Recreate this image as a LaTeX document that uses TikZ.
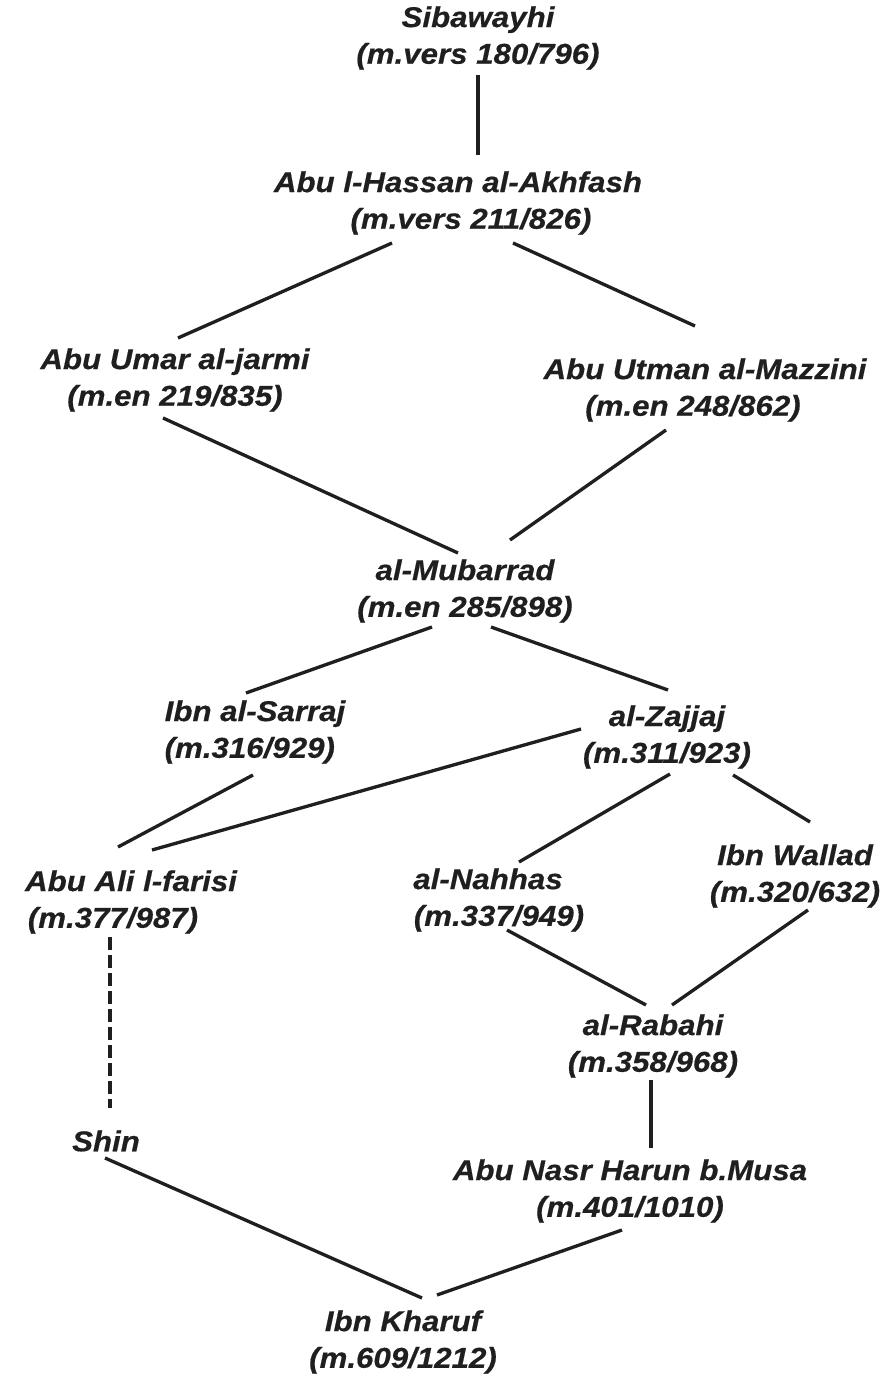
\documentclass[tikz,border=0pt]{standalone}
\usepackage{fontspec}
\setmainfont{Liberation Sans}
\newfontfamily\pfont{Liberation Sans}[FakeStretch=1.09,FakeBold=0.5]
\begin{document}
\begin{tikzpicture}[x=0.75pt,y=-0.75pt,
  person/.style={inner sep=0pt,align=center,text=black!88,
    font=\pfont\fontsize{21.5}{27.5}\selectfont\bfseries\itshape},
  link/.style={line width=2.5pt,black!88},
  dlink/.style={link,dash pattern=on 9.5pt off 4pt}]
\useasboundingbox[fill=white] (0,0) rectangle (886,1376);
\node[person] (sib) at (478,38) {Sibawayhi\\(m.vers 180/796)};
\node[person] (akh) at (458,203) {Abu l-Hassan al-Akhfash\\\hspace*{19.5pt}(m.vers 211/826)};
\node[person] (umar) at (175,380) {Abu Umar al-jarmi\\(m.en 219/835)};
\node[person] (utm) at (705,390) {Abu Utman al-Mazzini\\(m.en 248/862)\hspace*{18pt}};
\node[person] (mub) at (465,591) {al-Mubarrad\\(m.en 285/898)};
\node[person,align=left] (sar) at (255,732) {Ibn al-Sarraj\\(m.316/929)};
\node[person] (zaj) at (667,737) {al-Zajjaj\\(m.311/923)};
\node[person] (far) at (131,902) {Abu Ali l-farisi\\(m.377/987)\hspace*{27pt}};
\node[person] (nah) at (488,900) {al-Nahhas\\\hspace*{16.5pt}(m.337/949)};
\node[person] (wal) at (795,876) {Ibn Wallad\\(m.320/632)};
\node[person] (rab) at (653,1046) {al-Rabahi\\(m.358/968)};
\node[person] (shin) at (106,1141) {Shin};
\node[person] (har) at (630,1191) {Abu Nasr Harun b.Musa\\(m.401/1010)};
\node[person] (kha) at (403,1342) {Ibn Kharuf\\(m.609/1212)};

\draw[link] ([shift={(0,37)}]sib.center) -- ([shift={(20,-48)}]akh.center);
\draw[link] ([shift={(-66,40)}]akh.center) -- ([shift={(3,-42)}]umar.center);
\draw[link] ([shift={(55,40)}]akh.center) -- ([shift={(-10,-64)}]utm.center);
\draw[link] ([shift={(-12,38)}]umar.center) -- ([shift={(-7,-38)}]mub.center);
\draw[link] ([shift={(-39,40)}]utm.center) -- ([shift={(45,-51)}]mub.center);
\draw[link] ([shift={(-33,36)}]mub.center) -- ([shift={(-9,-39)}]sar.center);
\draw[link] ([shift={(26,36)}]mub.center) -- ([shift={(1,-47)}]zaj.center);
\draw[link] ([shift={(-2,43)}]sar.center) -- ([shift={(-13,-55)}]far.center);
\draw[link] ([shift={(-86,-8)}]zaj.center) -- ([shift={(21,-52)}]far.center);
\draw[link] ([shift={(3,37)}]zaj.center) -- ([shift={(31,-38)}]nah.center);
\draw[link] ([shift={(66,38)}]zaj.center) -- ([shift={(15,-54)}]wal.center);
\draw[dlink] ([shift={(-21,35)}]far.center) -- ([shift={(4,-33)}]shin.center);
\draw[link] ([shift={(19,30)}]nah.center) -- ([shift={(-7,-41)}]rab.center);
\draw[link] ([shift={(13,34)}]wal.center) -- ([shift={(19,-41)}]rab.center);
\draw[link] ([shift={(-2,34)}]rab.center) -- ([shift={(21,-43)}]har.center);
\draw[link] ([shift={(-1,17)}]shin.center) -- ([shift={(19,-44)}]kha.center);
\draw[link] ([shift={(-8,39)}]har.center) -- ([shift={(34,-47)}]kha.center);
\end{tikzpicture}
\end{document}
